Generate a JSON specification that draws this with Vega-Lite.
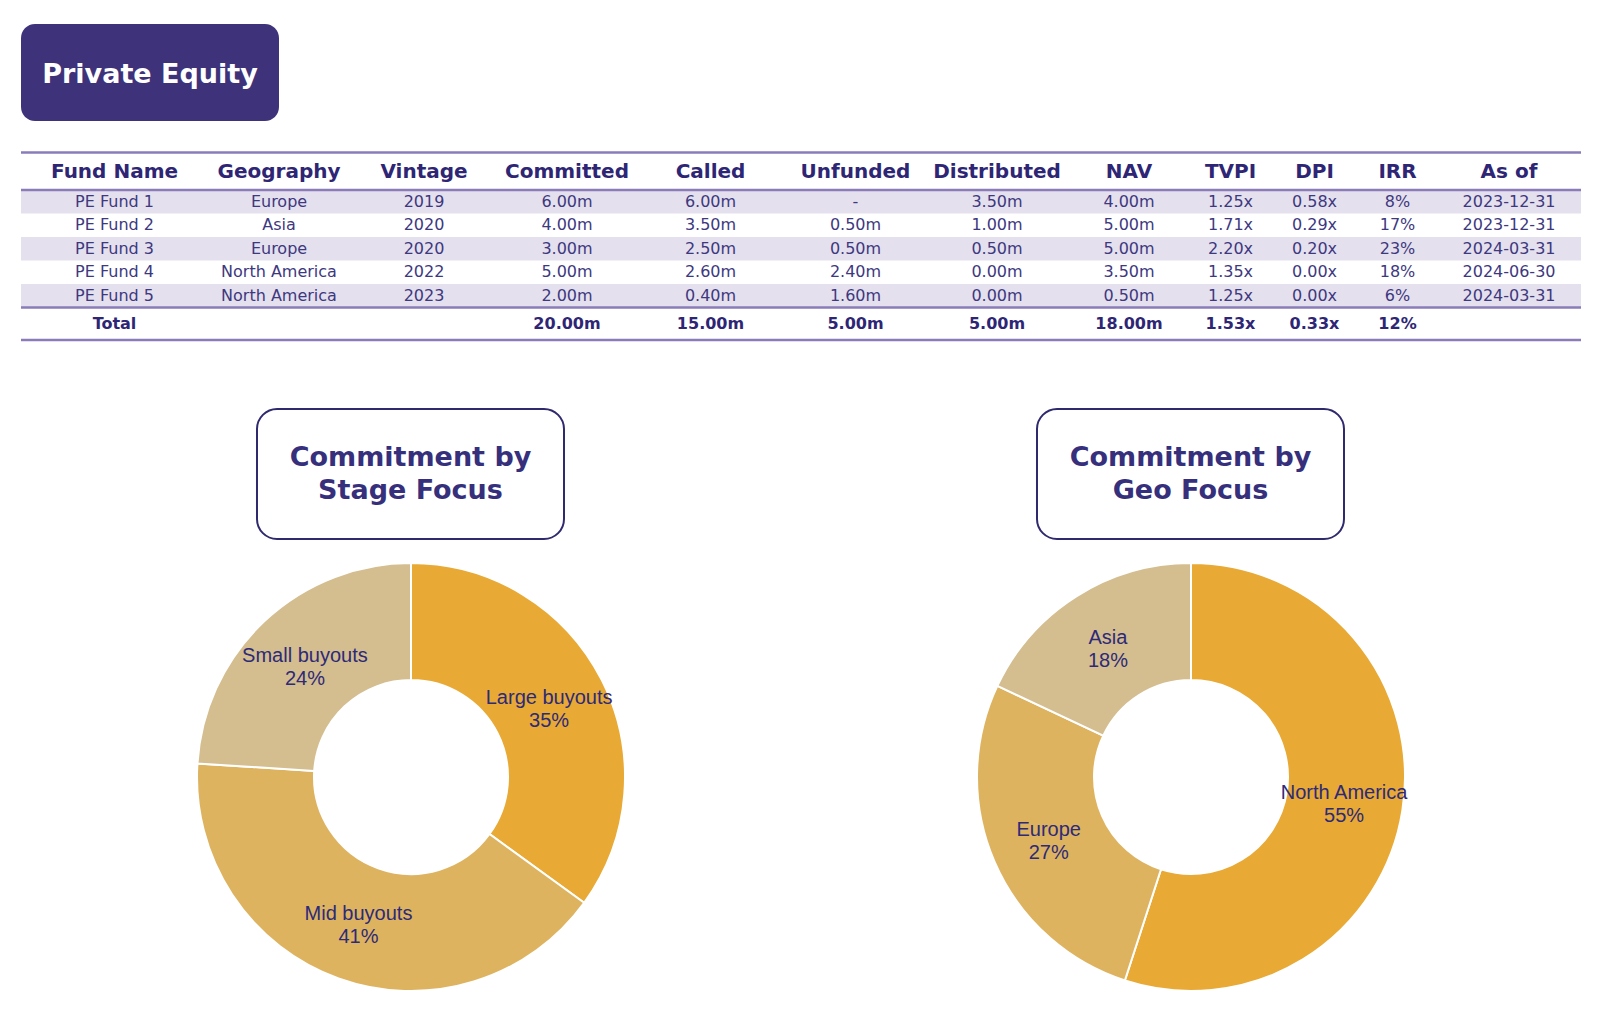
{
  "$schema": "https://vega.github.io/schema/vega-lite/v6.json",
  "padding": {"left": 19, "top": 24, "right": 0, "bottom": 0},
  "background": "white",
  "config": {
    "view": {"stroke": null},
    "text": {"font": "DejaVu Sans"}
  },
  "datasets": {
    "funds": [
      {"row": 1, "Fund Name": "PE Fund 1", "Geography": "Europe", "Vintage": "2019", "Committed": "6.00m", "Called": "6.00m", "Unfunded": "-", "Distributed": "3.50m", "NAV": "4.00m", "TVPI": "1.25x", "DPI": "0.58x", "IRR": "8%", "As of": "2023-12-31"},
      {"row": 2, "Fund Name": "PE Fund 2", "Geography": "Asia", "Vintage": "2020", "Committed": "4.00m", "Called": "3.50m", "Unfunded": "0.50m", "Distributed": "1.00m", "NAV": "5.00m", "TVPI": "1.71x", "DPI": "0.29x", "IRR": "17%", "As of": "2023-12-31"},
      {"row": 3, "Fund Name": "PE Fund 3", "Geography": "Europe", "Vintage": "2020", "Committed": "3.00m", "Called": "2.50m", "Unfunded": "0.50m", "Distributed": "0.50m", "NAV": "5.00m", "TVPI": "2.20x", "DPI": "0.20x", "IRR": "23%", "As of": "2024-03-31"},
      {"row": 4, "Fund Name": "PE Fund 4", "Geography": "North America", "Vintage": "2022", "Committed": "5.00m", "Called": "2.60m", "Unfunded": "2.40m", "Distributed": "0.00m", "NAV": "3.50m", "TVPI": "1.35x", "DPI": "0.00x", "IRR": "18%", "As of": "2024-06-30"},
      {"row": 5, "Fund Name": "PE Fund 5", "Geography": "North America", "Vintage": "2023", "Committed": "2.00m", "Called": "0.40m", "Unfunded": "1.60m", "Distributed": "0.00m", "NAV": "0.50m", "TVPI": "1.25x", "DPI": "0.00x", "IRR": "6%", "As of": "2024-03-31"}
    ],
    "totals": [
      {"Fund Name": "Total", "Committed": "20.00m", "Called": "15.00m", "Unfunded": "5.00m", "Distributed": "5.00m", "NAV": "18.00m", "TVPI": "1.53x", "DPI": "0.33x", "IRR": "12%"}
    ],
    "columns": [
      {"col": "Fund Name"}, {"col": "Geography"}, {"col": "Vintage"}, {"col": "Committed"}, {"col": "Called"}, {"col": "Unfunded"},
      {"col": "Distributed"}, {"col": "NAV"}, {"col": "TVPI"}, {"col": "DPI"}, {"col": "IRR"}, {"col": "As of"}
    ],
    "stage": [
      {"category": "Large buyouts", "pct": 35},
      {"category": "Mid buyouts", "pct": 41},
      {"category": "Small buyouts", "pct": 24}
    ],
    "geo": [
      {"category": "North America", "pct": 55},
      {"category": "Europe", "pct": 27},
      {"category": "Asia", "pct": 18}
    ],
    "titles": [
      {"name": "main", "title": "Private Equity"},
      {"name": "stage", "title": "Commitment by\nStage Focus"},
      {"name": "geo", "title": "Commitment by\nGeo Focus"}
    ]
  },
  "spacing": 26,
  "vconcat": [
    {
      "width": 258, "height": 97,
      "view": {"fill": "#3e337b", "stroke": null, "cornerRadius": 14},
      "data": {"name": "titles"},
      "transform": [{"filter": "datum.name == 'main'"}],
      "mark": {"type": "text", "fontSize": 27, "fontWeight": "bold", "color": "white", "dy": 2},
      "encoding": {"text": {"field": "title"}}
    },
    {
      "spacing": 0,
      "bounds": "flush",
      "hconcat": [
        {"width": 187, "height": 235, "data": {"name": "totals"}, "layer": [
          {"data": {"name": "funds"}, "transform": [{"filter": "datum.row % 2 == 1"}], "mark": {"type": "rect", "color": "#e5e0ed", "height": 23.5}, "encoding": {"y": {"field": "row", "type": "quantitative", "scale": {"domain": [-1.33, 8.67], "reverse": true, "nice": false, "zero": false}, "axis": null}}},
          {"mark": {"type": "rule", "color": "#8a7cb8", "strokeWidth": 2.5}, "encoding": {"y": {"datum": -1.096, "type": "quantitative", "scale": {"domain": [-1.33, 8.67], "reverse": true, "nice": false, "zero": false}, "axis": null}}},
          {"mark": {"type": "rule", "color": "#8a7cb8", "strokeWidth": 2.5}, "encoding": {"y": {"datum": 0.5, "type": "quantitative", "scale": {"domain": [-1.33, 8.67], "reverse": true, "nice": false, "zero": false}, "axis": null}}},
          {"mark": {"type": "rule", "color": "#8a7cb8", "strokeWidth": 2.5}, "encoding": {"y": {"datum": 5.5, "type": "quantitative", "scale": {"domain": [-1.33, 8.67], "reverse": true, "nice": false, "zero": false}, "axis": null}}},
          {"mark": {"type": "rule", "color": "#8a7cb8", "strokeWidth": 2.5}, "encoding": {"y": {"datum": 6.883, "type": "quantitative", "scale": {"domain": [-1.33, 8.67], "reverse": true, "nice": false, "zero": false}, "axis": null}}},
          {"data": {"name": "funds"}, "mark": {"type": "text", "fontSize": 16, "color": "#3d3880"}, "encoding": {"y": {"field": "row", "type": "quantitative", "scale": {"domain": [-1.33, 8.67], "reverse": true, "nice": false, "zero": false}, "axis": null}, "text": {"field": "Fund Name"}}},
          {"data": {"name": "columns"}, "transform": [{"filter": "datum.col == 'Fund Name'"}], "mark": {"type": "text", "fontSize": 20, "fontWeight": "bold", "color": "#2e2675"}, "encoding": {"y": {"datum": -0.25, "type": "quantitative", "scale": {"domain": [-1.33, 8.67], "reverse": true, "nice": false, "zero": false}, "axis": null}, "text": {"field": "col"}}},
          {"mark": {"type": "text", "fontSize": 16, "fontWeight": "bold", "color": "#2e2675"}, "encoding": {"y": {"datum": 6.2, "type": "quantitative", "scale": {"domain": [-1.33, 8.67], "reverse": true, "nice": false, "zero": false}, "axis": null}, "text": {"field": "Fund Name"}}}
        ]},
        {"width": 142, "height": 235, "data": {"name": "totals"}, "layer": [
          {"data": {"name": "funds"}, "transform": [{"filter": "datum.row % 2 == 1"}], "mark": {"type": "rect", "color": "#e5e0ed", "height": 23.5}, "encoding": {"y": {"field": "row", "type": "quantitative", "scale": {"domain": [-1.33, 8.67], "reverse": true, "nice": false, "zero": false}, "axis": null}}},
          {"mark": {"type": "rule", "color": "#8a7cb8", "strokeWidth": 2.5}, "encoding": {"y": {"datum": -1.096, "type": "quantitative", "scale": {"domain": [-1.33, 8.67], "reverse": true, "nice": false, "zero": false}, "axis": null}}},
          {"mark": {"type": "rule", "color": "#8a7cb8", "strokeWidth": 2.5}, "encoding": {"y": {"datum": 0.5, "type": "quantitative", "scale": {"domain": [-1.33, 8.67], "reverse": true, "nice": false, "zero": false}, "axis": null}}},
          {"mark": {"type": "rule", "color": "#8a7cb8", "strokeWidth": 2.5}, "encoding": {"y": {"datum": 5.5, "type": "quantitative", "scale": {"domain": [-1.33, 8.67], "reverse": true, "nice": false, "zero": false}, "axis": null}}},
          {"mark": {"type": "rule", "color": "#8a7cb8", "strokeWidth": 2.5}, "encoding": {"y": {"datum": 6.883, "type": "quantitative", "scale": {"domain": [-1.33, 8.67], "reverse": true, "nice": false, "zero": false}, "axis": null}}},
          {"data": {"name": "funds"}, "mark": {"type": "text", "fontSize": 16, "color": "#3d3880"}, "encoding": {"y": {"field": "row", "type": "quantitative", "scale": {"domain": [-1.33, 8.67], "reverse": true, "nice": false, "zero": false}, "axis": null}, "text": {"field": "Geography"}}},
          {"data": {"name": "columns"}, "transform": [{"filter": "datum.col == 'Geography'"}], "mark": {"type": "text", "fontSize": 20, "fontWeight": "bold", "color": "#2e2675"}, "encoding": {"y": {"datum": -0.25, "type": "quantitative", "scale": {"domain": [-1.33, 8.67], "reverse": true, "nice": false, "zero": false}, "axis": null}, "text": {"field": "col"}}}
        ]},
        {"width": 148, "height": 235, "data": {"name": "totals"}, "layer": [
          {"data": {"name": "funds"}, "transform": [{"filter": "datum.row % 2 == 1"}], "mark": {"type": "rect", "color": "#e5e0ed", "height": 23.5}, "encoding": {"y": {"field": "row", "type": "quantitative", "scale": {"domain": [-1.33, 8.67], "reverse": true, "nice": false, "zero": false}, "axis": null}}},
          {"mark": {"type": "rule", "color": "#8a7cb8", "strokeWidth": 2.5}, "encoding": {"y": {"datum": -1.096, "type": "quantitative", "scale": {"domain": [-1.33, 8.67], "reverse": true, "nice": false, "zero": false}, "axis": null}}},
          {"mark": {"type": "rule", "color": "#8a7cb8", "strokeWidth": 2.5}, "encoding": {"y": {"datum": 0.5, "type": "quantitative", "scale": {"domain": [-1.33, 8.67], "reverse": true, "nice": false, "zero": false}, "axis": null}}},
          {"mark": {"type": "rule", "color": "#8a7cb8", "strokeWidth": 2.5}, "encoding": {"y": {"datum": 5.5, "type": "quantitative", "scale": {"domain": [-1.33, 8.67], "reverse": true, "nice": false, "zero": false}, "axis": null}}},
          {"mark": {"type": "rule", "color": "#8a7cb8", "strokeWidth": 2.5}, "encoding": {"y": {"datum": 6.883, "type": "quantitative", "scale": {"domain": [-1.33, 8.67], "reverse": true, "nice": false, "zero": false}, "axis": null}}},
          {"data": {"name": "funds"}, "mark": {"type": "text", "fontSize": 16, "color": "#3d3880"}, "encoding": {"y": {"field": "row", "type": "quantitative", "scale": {"domain": [-1.33, 8.67], "reverse": true, "nice": false, "zero": false}, "axis": null}, "text": {"field": "Vintage"}}},
          {"data": {"name": "columns"}, "transform": [{"filter": "datum.col == 'Vintage'"}], "mark": {"type": "text", "fontSize": 20, "fontWeight": "bold", "color": "#2e2675"}, "encoding": {"y": {"datum": -0.25, "type": "quantitative", "scale": {"domain": [-1.33, 8.67], "reverse": true, "nice": false, "zero": false}, "axis": null}, "text": {"field": "col"}}}
        ]},
        {"width": 138, "height": 235, "data": {"name": "totals"}, "layer": [
          {"data": {"name": "funds"}, "transform": [{"filter": "datum.row % 2 == 1"}], "mark": {"type": "rect", "color": "#e5e0ed", "height": 23.5}, "encoding": {"y": {"field": "row", "type": "quantitative", "scale": {"domain": [-1.33, 8.67], "reverse": true, "nice": false, "zero": false}, "axis": null}}},
          {"mark": {"type": "rule", "color": "#8a7cb8", "strokeWidth": 2.5}, "encoding": {"y": {"datum": -1.096, "type": "quantitative", "scale": {"domain": [-1.33, 8.67], "reverse": true, "nice": false, "zero": false}, "axis": null}}},
          {"mark": {"type": "rule", "color": "#8a7cb8", "strokeWidth": 2.5}, "encoding": {"y": {"datum": 0.5, "type": "quantitative", "scale": {"domain": [-1.33, 8.67], "reverse": true, "nice": false, "zero": false}, "axis": null}}},
          {"mark": {"type": "rule", "color": "#8a7cb8", "strokeWidth": 2.5}, "encoding": {"y": {"datum": 5.5, "type": "quantitative", "scale": {"domain": [-1.33, 8.67], "reverse": true, "nice": false, "zero": false}, "axis": null}}},
          {"mark": {"type": "rule", "color": "#8a7cb8", "strokeWidth": 2.5}, "encoding": {"y": {"datum": 6.883, "type": "quantitative", "scale": {"domain": [-1.33, 8.67], "reverse": true, "nice": false, "zero": false}, "axis": null}}},
          {"data": {"name": "funds"}, "mark": {"type": "text", "fontSize": 16, "color": "#3d3880"}, "encoding": {"y": {"field": "row", "type": "quantitative", "scale": {"domain": [-1.33, 8.67], "reverse": true, "nice": false, "zero": false}, "axis": null}, "text": {"field": "Committed"}}},
          {"data": {"name": "columns"}, "transform": [{"filter": "datum.col == 'Committed'"}], "mark": {"type": "text", "fontSize": 20, "fontWeight": "bold", "color": "#2e2675"}, "encoding": {"y": {"datum": -0.25, "type": "quantitative", "scale": {"domain": [-1.33, 8.67], "reverse": true, "nice": false, "zero": false}, "axis": null}, "text": {"field": "col"}}},
          {"mark": {"type": "text", "fontSize": 16, "fontWeight": "bold", "color": "#2e2675"}, "encoding": {"y": {"datum": 6.2, "type": "quantitative", "scale": {"domain": [-1.33, 8.67], "reverse": true, "nice": false, "zero": false}, "axis": null}, "text": {"field": "Committed"}}}
        ]},
        {"width": 149, "height": 235, "data": {"name": "totals"}, "layer": [
          {"data": {"name": "funds"}, "transform": [{"filter": "datum.row % 2 == 1"}], "mark": {"type": "rect", "color": "#e5e0ed", "height": 23.5}, "encoding": {"y": {"field": "row", "type": "quantitative", "scale": {"domain": [-1.33, 8.67], "reverse": true, "nice": false, "zero": false}, "axis": null}}},
          {"mark": {"type": "rule", "color": "#8a7cb8", "strokeWidth": 2.5}, "encoding": {"y": {"datum": -1.096, "type": "quantitative", "scale": {"domain": [-1.33, 8.67], "reverse": true, "nice": false, "zero": false}, "axis": null}}},
          {"mark": {"type": "rule", "color": "#8a7cb8", "strokeWidth": 2.5}, "encoding": {"y": {"datum": 0.5, "type": "quantitative", "scale": {"domain": [-1.33, 8.67], "reverse": true, "nice": false, "zero": false}, "axis": null}}},
          {"mark": {"type": "rule", "color": "#8a7cb8", "strokeWidth": 2.5}, "encoding": {"y": {"datum": 5.5, "type": "quantitative", "scale": {"domain": [-1.33, 8.67], "reverse": true, "nice": false, "zero": false}, "axis": null}}},
          {"mark": {"type": "rule", "color": "#8a7cb8", "strokeWidth": 2.5}, "encoding": {"y": {"datum": 6.883, "type": "quantitative", "scale": {"domain": [-1.33, 8.67], "reverse": true, "nice": false, "zero": false}, "axis": null}}},
          {"data": {"name": "funds"}, "mark": {"type": "text", "fontSize": 16, "color": "#3d3880"}, "encoding": {"y": {"field": "row", "type": "quantitative", "scale": {"domain": [-1.33, 8.67], "reverse": true, "nice": false, "zero": false}, "axis": null}, "text": {"field": "Called"}}},
          {"data": {"name": "columns"}, "transform": [{"filter": "datum.col == 'Called'"}], "mark": {"type": "text", "fontSize": 20, "fontWeight": "bold", "color": "#2e2675"}, "encoding": {"y": {"datum": -0.25, "type": "quantitative", "scale": {"domain": [-1.33, 8.67], "reverse": true, "nice": false, "zero": false}, "axis": null}, "text": {"field": "col"}}},
          {"mark": {"type": "text", "fontSize": 16, "fontWeight": "bold", "color": "#2e2675"}, "encoding": {"y": {"datum": 6.2, "type": "quantitative", "scale": {"domain": [-1.33, 8.67], "reverse": true, "nice": false, "zero": false}, "axis": null}, "text": {"field": "Called"}}}
        ]},
        {"width": 141, "height": 235, "data": {"name": "totals"}, "layer": [
          {"data": {"name": "funds"}, "transform": [{"filter": "datum.row % 2 == 1"}], "mark": {"type": "rect", "color": "#e5e0ed", "height": 23.5}, "encoding": {"y": {"field": "row", "type": "quantitative", "scale": {"domain": [-1.33, 8.67], "reverse": true, "nice": false, "zero": false}, "axis": null}}},
          {"mark": {"type": "rule", "color": "#8a7cb8", "strokeWidth": 2.5}, "encoding": {"y": {"datum": -1.096, "type": "quantitative", "scale": {"domain": [-1.33, 8.67], "reverse": true, "nice": false, "zero": false}, "axis": null}}},
          {"mark": {"type": "rule", "color": "#8a7cb8", "strokeWidth": 2.5}, "encoding": {"y": {"datum": 0.5, "type": "quantitative", "scale": {"domain": [-1.33, 8.67], "reverse": true, "nice": false, "zero": false}, "axis": null}}},
          {"mark": {"type": "rule", "color": "#8a7cb8", "strokeWidth": 2.5}, "encoding": {"y": {"datum": 5.5, "type": "quantitative", "scale": {"domain": [-1.33, 8.67], "reverse": true, "nice": false, "zero": false}, "axis": null}}},
          {"mark": {"type": "rule", "color": "#8a7cb8", "strokeWidth": 2.5}, "encoding": {"y": {"datum": 6.883, "type": "quantitative", "scale": {"domain": [-1.33, 8.67], "reverse": true, "nice": false, "zero": false}, "axis": null}}},
          {"data": {"name": "funds"}, "mark": {"type": "text", "fontSize": 16, "color": "#3d3880"}, "encoding": {"y": {"field": "row", "type": "quantitative", "scale": {"domain": [-1.33, 8.67], "reverse": true, "nice": false, "zero": false}, "axis": null}, "text": {"field": "Unfunded"}}},
          {"data": {"name": "columns"}, "transform": [{"filter": "datum.col == 'Unfunded'"}], "mark": {"type": "text", "fontSize": 20, "fontWeight": "bold", "color": "#2e2675"}, "encoding": {"y": {"datum": -0.25, "type": "quantitative", "scale": {"domain": [-1.33, 8.67], "reverse": true, "nice": false, "zero": false}, "axis": null}, "text": {"field": "col"}}},
          {"mark": {"type": "text", "fontSize": 16, "fontWeight": "bold", "color": "#2e2675"}, "encoding": {"y": {"datum": 6.2, "type": "quantitative", "scale": {"domain": [-1.33, 8.67], "reverse": true, "nice": false, "zero": false}, "axis": null}, "text": {"field": "Unfunded"}}}
        ]},
        {"width": 142, "height": 235, "data": {"name": "totals"}, "layer": [
          {"data": {"name": "funds"}, "transform": [{"filter": "datum.row % 2 == 1"}], "mark": {"type": "rect", "color": "#e5e0ed", "height": 23.5}, "encoding": {"y": {"field": "row", "type": "quantitative", "scale": {"domain": [-1.33, 8.67], "reverse": true, "nice": false, "zero": false}, "axis": null}}},
          {"mark": {"type": "rule", "color": "#8a7cb8", "strokeWidth": 2.5}, "encoding": {"y": {"datum": -1.096, "type": "quantitative", "scale": {"domain": [-1.33, 8.67], "reverse": true, "nice": false, "zero": false}, "axis": null}}},
          {"mark": {"type": "rule", "color": "#8a7cb8", "strokeWidth": 2.5}, "encoding": {"y": {"datum": 0.5, "type": "quantitative", "scale": {"domain": [-1.33, 8.67], "reverse": true, "nice": false, "zero": false}, "axis": null}}},
          {"mark": {"type": "rule", "color": "#8a7cb8", "strokeWidth": 2.5}, "encoding": {"y": {"datum": 5.5, "type": "quantitative", "scale": {"domain": [-1.33, 8.67], "reverse": true, "nice": false, "zero": false}, "axis": null}}},
          {"mark": {"type": "rule", "color": "#8a7cb8", "strokeWidth": 2.5}, "encoding": {"y": {"datum": 6.883, "type": "quantitative", "scale": {"domain": [-1.33, 8.67], "reverse": true, "nice": false, "zero": false}, "axis": null}}},
          {"data": {"name": "funds"}, "mark": {"type": "text", "fontSize": 16, "color": "#3d3880"}, "encoding": {"y": {"field": "row", "type": "quantitative", "scale": {"domain": [-1.33, 8.67], "reverse": true, "nice": false, "zero": false}, "axis": null}, "text": {"field": "Distributed"}}},
          {"data": {"name": "columns"}, "transform": [{"filter": "datum.col == 'Distributed'"}], "mark": {"type": "text", "fontSize": 20, "fontWeight": "bold", "color": "#2e2675"}, "encoding": {"y": {"datum": -0.25, "type": "quantitative", "scale": {"domain": [-1.33, 8.67], "reverse": true, "nice": false, "zero": false}, "axis": null}, "text": {"field": "col"}}},
          {"mark": {"type": "text", "fontSize": 16, "fontWeight": "bold", "color": "#2e2675"}, "encoding": {"y": {"datum": 6.2, "type": "quantitative", "scale": {"domain": [-1.33, 8.67], "reverse": true, "nice": false, "zero": false}, "axis": null}, "text": {"field": "Distributed"}}}
        ]},
        {"width": 122, "height": 235, "data": {"name": "totals"}, "layer": [
          {"data": {"name": "funds"}, "transform": [{"filter": "datum.row % 2 == 1"}], "mark": {"type": "rect", "color": "#e5e0ed", "height": 23.5}, "encoding": {"y": {"field": "row", "type": "quantitative", "scale": {"domain": [-1.33, 8.67], "reverse": true, "nice": false, "zero": false}, "axis": null}}},
          {"mark": {"type": "rule", "color": "#8a7cb8", "strokeWidth": 2.5}, "encoding": {"y": {"datum": -1.096, "type": "quantitative", "scale": {"domain": [-1.33, 8.67], "reverse": true, "nice": false, "zero": false}, "axis": null}}},
          {"mark": {"type": "rule", "color": "#8a7cb8", "strokeWidth": 2.5}, "encoding": {"y": {"datum": 0.5, "type": "quantitative", "scale": {"domain": [-1.33, 8.67], "reverse": true, "nice": false, "zero": false}, "axis": null}}},
          {"mark": {"type": "rule", "color": "#8a7cb8", "strokeWidth": 2.5}, "encoding": {"y": {"datum": 5.5, "type": "quantitative", "scale": {"domain": [-1.33, 8.67], "reverse": true, "nice": false, "zero": false}, "axis": null}}},
          {"mark": {"type": "rule", "color": "#8a7cb8", "strokeWidth": 2.5}, "encoding": {"y": {"datum": 6.883, "type": "quantitative", "scale": {"domain": [-1.33, 8.67], "reverse": true, "nice": false, "zero": false}, "axis": null}}},
          {"data": {"name": "funds"}, "mark": {"type": "text", "fontSize": 16, "color": "#3d3880"}, "encoding": {"y": {"field": "row", "type": "quantitative", "scale": {"domain": [-1.33, 8.67], "reverse": true, "nice": false, "zero": false}, "axis": null}, "text": {"field": "NAV"}}},
          {"data": {"name": "columns"}, "transform": [{"filter": "datum.col == 'NAV'"}], "mark": {"type": "text", "fontSize": 20, "fontWeight": "bold", "color": "#2e2675"}, "encoding": {"y": {"datum": -0.25, "type": "quantitative", "scale": {"domain": [-1.33, 8.67], "reverse": true, "nice": false, "zero": false}, "axis": null}, "text": {"field": "col"}}},
          {"mark": {"type": "text", "fontSize": 16, "fontWeight": "bold", "color": "#2e2675"}, "encoding": {"y": {"datum": 6.2, "type": "quantitative", "scale": {"domain": [-1.33, 8.67], "reverse": true, "nice": false, "zero": false}, "axis": null}, "text": {"field": "NAV"}}}
        ]},
        {"width": 81, "height": 235, "data": {"name": "totals"}, "layer": [
          {"data": {"name": "funds"}, "transform": [{"filter": "datum.row % 2 == 1"}], "mark": {"type": "rect", "color": "#e5e0ed", "height": 23.5}, "encoding": {"y": {"field": "row", "type": "quantitative", "scale": {"domain": [-1.33, 8.67], "reverse": true, "nice": false, "zero": false}, "axis": null}}},
          {"mark": {"type": "rule", "color": "#8a7cb8", "strokeWidth": 2.5}, "encoding": {"y": {"datum": -1.096, "type": "quantitative", "scale": {"domain": [-1.33, 8.67], "reverse": true, "nice": false, "zero": false}, "axis": null}}},
          {"mark": {"type": "rule", "color": "#8a7cb8", "strokeWidth": 2.5}, "encoding": {"y": {"datum": 0.5, "type": "quantitative", "scale": {"domain": [-1.33, 8.67], "reverse": true, "nice": false, "zero": false}, "axis": null}}},
          {"mark": {"type": "rule", "color": "#8a7cb8", "strokeWidth": 2.5}, "encoding": {"y": {"datum": 5.5, "type": "quantitative", "scale": {"domain": [-1.33, 8.67], "reverse": true, "nice": false, "zero": false}, "axis": null}}},
          {"mark": {"type": "rule", "color": "#8a7cb8", "strokeWidth": 2.5}, "encoding": {"y": {"datum": 6.883, "type": "quantitative", "scale": {"domain": [-1.33, 8.67], "reverse": true, "nice": false, "zero": false}, "axis": null}}},
          {"data": {"name": "funds"}, "mark": {"type": "text", "fontSize": 16, "color": "#3d3880"}, "encoding": {"y": {"field": "row", "type": "quantitative", "scale": {"domain": [-1.33, 8.67], "reverse": true, "nice": false, "zero": false}, "axis": null}, "text": {"field": "TVPI"}}},
          {"data": {"name": "columns"}, "transform": [{"filter": "datum.col == 'TVPI'"}], "mark": {"type": "text", "fontSize": 20, "fontWeight": "bold", "color": "#2e2675"}, "encoding": {"y": {"datum": -0.25, "type": "quantitative", "scale": {"domain": [-1.33, 8.67], "reverse": true, "nice": false, "zero": false}, "axis": null}, "text": {"field": "col"}}},
          {"mark": {"type": "text", "fontSize": 16, "fontWeight": "bold", "color": "#2e2675"}, "encoding": {"y": {"datum": 6.2, "type": "quantitative", "scale": {"domain": [-1.33, 8.67], "reverse": true, "nice": false, "zero": false}, "axis": null}, "text": {"field": "TVPI"}}}
        ]},
        {"width": 87, "height": 235, "data": {"name": "totals"}, "layer": [
          {"data": {"name": "funds"}, "transform": [{"filter": "datum.row % 2 == 1"}], "mark": {"type": "rect", "color": "#e5e0ed", "height": 23.5}, "encoding": {"y": {"field": "row", "type": "quantitative", "scale": {"domain": [-1.33, 8.67], "reverse": true, "nice": false, "zero": false}, "axis": null}}},
          {"mark": {"type": "rule", "color": "#8a7cb8", "strokeWidth": 2.5}, "encoding": {"y": {"datum": -1.096, "type": "quantitative", "scale": {"domain": [-1.33, 8.67], "reverse": true, "nice": false, "zero": false}, "axis": null}}},
          {"mark": {"type": "rule", "color": "#8a7cb8", "strokeWidth": 2.5}, "encoding": {"y": {"datum": 0.5, "type": "quantitative", "scale": {"domain": [-1.33, 8.67], "reverse": true, "nice": false, "zero": false}, "axis": null}}},
          {"mark": {"type": "rule", "color": "#8a7cb8", "strokeWidth": 2.5}, "encoding": {"y": {"datum": 5.5, "type": "quantitative", "scale": {"domain": [-1.33, 8.67], "reverse": true, "nice": false, "zero": false}, "axis": null}}},
          {"mark": {"type": "rule", "color": "#8a7cb8", "strokeWidth": 2.5}, "encoding": {"y": {"datum": 6.883, "type": "quantitative", "scale": {"domain": [-1.33, 8.67], "reverse": true, "nice": false, "zero": false}, "axis": null}}},
          {"data": {"name": "funds"}, "mark": {"type": "text", "fontSize": 16, "color": "#3d3880"}, "encoding": {"y": {"field": "row", "type": "quantitative", "scale": {"domain": [-1.33, 8.67], "reverse": true, "nice": false, "zero": false}, "axis": null}, "text": {"field": "DPI"}}},
          {"data": {"name": "columns"}, "transform": [{"filter": "datum.col == 'DPI'"}], "mark": {"type": "text", "fontSize": 20, "fontWeight": "bold", "color": "#2e2675"}, "encoding": {"y": {"datum": -0.25, "type": "quantitative", "scale": {"domain": [-1.33, 8.67], "reverse": true, "nice": false, "zero": false}, "axis": null}, "text": {"field": "col"}}},
          {"mark": {"type": "text", "fontSize": 16, "fontWeight": "bold", "color": "#2e2675"}, "encoding": {"y": {"datum": 6.2, "type": "quantitative", "scale": {"domain": [-1.33, 8.67], "reverse": true, "nice": false, "zero": false}, "axis": null}, "text": {"field": "DPI"}}}
        ]},
        {"width": 79, "height": 235, "data": {"name": "totals"}, "layer": [
          {"data": {"name": "funds"}, "transform": [{"filter": "datum.row % 2 == 1"}], "mark": {"type": "rect", "color": "#e5e0ed", "height": 23.5}, "encoding": {"y": {"field": "row", "type": "quantitative", "scale": {"domain": [-1.33, 8.67], "reverse": true, "nice": false, "zero": false}, "axis": null}}},
          {"mark": {"type": "rule", "color": "#8a7cb8", "strokeWidth": 2.5}, "encoding": {"y": {"datum": -1.096, "type": "quantitative", "scale": {"domain": [-1.33, 8.67], "reverse": true, "nice": false, "zero": false}, "axis": null}}},
          {"mark": {"type": "rule", "color": "#8a7cb8", "strokeWidth": 2.5}, "encoding": {"y": {"datum": 0.5, "type": "quantitative", "scale": {"domain": [-1.33, 8.67], "reverse": true, "nice": false, "zero": false}, "axis": null}}},
          {"mark": {"type": "rule", "color": "#8a7cb8", "strokeWidth": 2.5}, "encoding": {"y": {"datum": 5.5, "type": "quantitative", "scale": {"domain": [-1.33, 8.67], "reverse": true, "nice": false, "zero": false}, "axis": null}}},
          {"mark": {"type": "rule", "color": "#8a7cb8", "strokeWidth": 2.5}, "encoding": {"y": {"datum": 6.883, "type": "quantitative", "scale": {"domain": [-1.33, 8.67], "reverse": true, "nice": false, "zero": false}, "axis": null}}},
          {"data": {"name": "funds"}, "mark": {"type": "text", "fontSize": 16, "color": "#3d3880"}, "encoding": {"y": {"field": "row", "type": "quantitative", "scale": {"domain": [-1.33, 8.67], "reverse": true, "nice": false, "zero": false}, "axis": null}, "text": {"field": "IRR"}}},
          {"data": {"name": "columns"}, "transform": [{"filter": "datum.col == 'IRR'"}], "mark": {"type": "text", "fontSize": 20, "fontWeight": "bold", "color": "#2e2675"}, "encoding": {"y": {"datum": -0.25, "type": "quantitative", "scale": {"domain": [-1.33, 8.67], "reverse": true, "nice": false, "zero": false}, "axis": null}, "text": {"field": "col"}}},
          {"mark": {"type": "text", "fontSize": 16, "fontWeight": "bold", "color": "#2e2675"}, "encoding": {"y": {"datum": 6.2, "type": "quantitative", "scale": {"domain": [-1.33, 8.67], "reverse": true, "nice": false, "zero": false}, "axis": null}, "text": {"field": "IRR"}}}
        ]},
        {"width": 144, "height": 235, "data": {"name": "totals"}, "layer": [
          {"data": {"name": "funds"}, "transform": [{"filter": "datum.row % 2 == 1"}], "mark": {"type": "rect", "color": "#e5e0ed", "height": 23.5}, "encoding": {"y": {"field": "row", "type": "quantitative", "scale": {"domain": [-1.33, 8.67], "reverse": true, "nice": false, "zero": false}, "axis": null}}},
          {"mark": {"type": "rule", "color": "#8a7cb8", "strokeWidth": 2.5}, "encoding": {"y": {"datum": -1.096, "type": "quantitative", "scale": {"domain": [-1.33, 8.67], "reverse": true, "nice": false, "zero": false}, "axis": null}}},
          {"mark": {"type": "rule", "color": "#8a7cb8", "strokeWidth": 2.5}, "encoding": {"y": {"datum": 0.5, "type": "quantitative", "scale": {"domain": [-1.33, 8.67], "reverse": true, "nice": false, "zero": false}, "axis": null}}},
          {"mark": {"type": "rule", "color": "#8a7cb8", "strokeWidth": 2.5}, "encoding": {"y": {"datum": 5.5, "type": "quantitative", "scale": {"domain": [-1.33, 8.67], "reverse": true, "nice": false, "zero": false}, "axis": null}}},
          {"mark": {"type": "rule", "color": "#8a7cb8", "strokeWidth": 2.5}, "encoding": {"y": {"datum": 6.883, "type": "quantitative", "scale": {"domain": [-1.33, 8.67], "reverse": true, "nice": false, "zero": false}, "axis": null}}},
          {"data": {"name": "funds"}, "mark": {"type": "text", "fontSize": 16, "color": "#3d3880"}, "encoding": {"y": {"field": "row", "type": "quantitative", "scale": {"domain": [-1.33, 8.67], "reverse": true, "nice": false, "zero": false}, "axis": null}, "text": {"field": "As of"}}},
          {"data": {"name": "columns"}, "transform": [{"filter": "datum.col == 'As of'"}], "mark": {"type": "text", "fontSize": 20, "fontWeight": "bold", "color": "#2e2675"}, "encoding": {"y": {"datum": -0.25, "type": "quantitative", "scale": {"domain": [-1.33, 8.67], "reverse": true, "nice": false, "zero": false}, "axis": null}, "text": {"field": "col"}}}
        ]}
      ]
    },
    {
      "spacing": 0,
      "resolve": {"scale": {"color": "independent", "theta": "independent"}},
      "hconcat": [
        {
          "spacing": 19, "center": true,
          "vconcat": [
            {
              "width": 307, "height": 130,
              "view": {"fill": "white", "stroke": "#2f2a6e", "strokeWidth": 2, "cornerRadius": 20},
              "data": {"name": "titles"},
              "transform": [{"filter": "datum.name == 'stage'"}],
              "mark": {"type": "text", "fontSize": 27, "fontWeight": "bold", "color": "#36307c", "lineBreak": "\n", "lineHeight": 33, "dy": -16.5},
              "encoding": {"text": {"field": "title"}}
            },
            {
              "width": 780, "height": 426,
              "data": {"name": "stage"},
              "transform": [
                {"window": [{"op": "row_number", "as": "ord"}]},
                {"calculate": "datum.category + '\\n' + datum.pct + '%'", "as": "label"}
              ],
              "encoding": {
                "theta": {"field": "pct", "type": "quantitative", "stack": true},
                "order": {"field": "ord", "type": "quantitative"}
              },
              "layer": [
                {
                  "mark": {"type": "arc", "outerRadius": 214, "innerRadius": 97, "stroke": "white", "strokeWidth": 2},
                  "encoding": {"color": {"field": "category", "type": "nominal", "scale": {"domain": ["Large buyouts", "Mid buyouts", "Small buyouts"], "range": ["#e8a935", "#deb360", "#d4bd8f"]}, "legend": null}}
                },
                {
                  "mark": {"type": "text", "radius": 155, "font": "Liberation Sans", "fontSize": 20, "lineBreak": "\n", "lineHeight": 23, "dy": -8.5, "color": "#2d2a78"},
                  "encoding": {"text": {"field": "label"}, "detail": {"field": "category"}}
                }
              ]
            }
          ]
        },
        {
          "spacing": 19, "center": true,
          "vconcat": [
            {
              "width": 307, "height": 130,
              "view": {"fill": "white", "stroke": "#2f2a6e", "strokeWidth": 2, "cornerRadius": 20},
              "data": {"name": "titles"},
              "transform": [{"filter": "datum.name == 'geo'"}],
              "mark": {"type": "text", "fontSize": 27, "fontWeight": "bold", "color": "#36307c", "lineBreak": "\n", "lineHeight": 33, "dy": -16.5},
              "encoding": {"text": {"field": "title"}}
            },
            {
              "width": 780, "height": 426,
              "data": {"name": "geo"},
              "transform": [
                {"window": [{"op": "row_number", "as": "ord"}]},
                {"calculate": "datum.category + '\\n' + datum.pct + '%'", "as": "label"}
              ],
              "encoding": {
                "theta": {"field": "pct", "type": "quantitative", "stack": true},
                "order": {"field": "ord", "type": "quantitative"}
              },
              "layer": [
                {
                  "mark": {"type": "arc", "outerRadius": 214, "innerRadius": 97, "stroke": "white", "strokeWidth": 2},
                  "encoding": {"color": {"field": "category", "type": "nominal", "scale": {"domain": ["North America", "Europe", "Asia"], "range": ["#e8a935", "#deb360", "#d4bd8f"]}, "legend": null}}
                },
                {
                  "mark": {"type": "text", "radius": 155, "font": "Liberation Sans", "fontSize": 20, "lineBreak": "\n", "lineHeight": 23, "dy": -8.5, "color": "#2d2a78"},
                  "encoding": {"text": {"field": "label"}, "detail": {"field": "category"}}
                }
              ]
            }
          ]
        }
      ]
    }
  ]
}
